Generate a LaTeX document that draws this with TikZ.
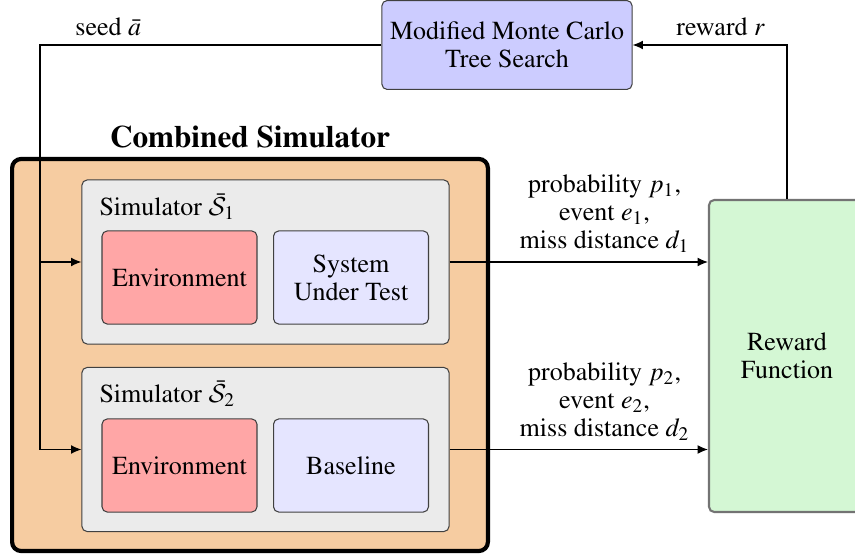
\documentclass[tikz,border=0pt]{standalone}
\usepackage[T1]{fontenc}
\usepackage{mathptmx}
\DeclareSymbolFont{cmcal}{OMS}{cmsy}{m}{n}
\DeclareSymbolFontAlphabet{\mathcal}{cmcal}
\usepackage{xcolor}
\usepackage{tikz}
\usetikzlibrary{arrows.meta,positioning}

\definecolor{simorange}{RGB}{246,204,161}
\definecolor{rewardgreen}{RGB}{212,247,212}
\definecolor{mctsblue}{RGB}{204,204,255}
\definecolor{envred}{RGB}{255,166,166}
\definecolor{sutblue}{RGB}{229,229,255}
\definecolor{simgray}{RGB}{235,235,235}

\begin{document}
\begin{tikzpicture}[x=0.3846pt,y=-0.3846pt,font=\fontsize{10}{10.8}\selectfont,>={Latex[length=4pt,width=3.4pt]},
		box/.style={draw=black!75,rounded corners=2pt,inner sep=0pt,align=center},
		inner box/.style={box,minimum width=59.6pt,minimum height=35.8pt},
		sim box/.style={box,fill=simgray,minimum width=141.2pt,minimum height=63.1pt}]
		\useasboundingbox (0,0) rectangle (855,558);
		% combined simulator
		\node[draw=black,line width=1.6pt,rounded corners=3.5pt,fill=simorange,minimum width=183pt,minimum height=150.8pt,inner sep=0pt] (comb) at (250,355) {};
		\node (combtitle) at (250,137) {\large\bfseries Combined Simulator};
		\node[sim box] (sim1) at (265.5,262) {};
		\node[anchor=west,inner sep=0pt] (sim1label) at (99,207) {Simulator $\bar{\mathcal{S}}_1$};
		\node[inner box,fill=envred] (env1) at (179.5,277.5) {Environment};
		\node[inner box,fill=sutblue] (sut) at (351,277.5) {System\\Under Test};
		\node[sim box] (sim2) at (265.5,449.5) {};
		\node[anchor=west,inner sep=0pt] (sim2label) at (99,394) {Simulator $\bar{\mathcal{S}}_2$};
		\node[inner box,fill=envred] (env2) at (179.5,465.5) {Environment};
		\node[inner box,fill=sutblue] (base) at (351,465.5) {Baseline};
		% search and reward
		\node[box,fill=mctsblue,minimum width=96.2pt,minimum height=34.2pt] (mcts) at (507,45) {Modified Monte Carlo\\Tree Search};
		\node[box,draw=black!55,line width=0.8pt,fill=rewardgreen,minimum width=60pt,minimum height=120pt] (reward) at (787,356) {Reward\\Function};
		% connectors
		\coordinate (seed) at (40,45);
		\coordinate (back) at (787,45);
		\draw[->] (mcts.west) -- node[above,pos=0.8] {seed $\bar{a}$} (seed) |- (sim1.west);
		\draw[->] (seed) |- (sim2.west);
		\draw[->] (reward.north) -- (back) -- node[above,pos=0.43] {reward $r$} (mcts.east);
		\draw[->] (sim1.east) -- node[above,pos=0.6,align=center] {probability $p_1$,\\event $e_1$,\\miss distance $d_1$} (reward.west |- sim1.east);
		\draw[->] (sim2.east) -- node[above,pos=0.6,align=center] {probability $p_2$,\\event $e_2$,\\miss distance $d_2$} (reward.west |- sim2.east);
	\end{tikzpicture}
\end{document}
